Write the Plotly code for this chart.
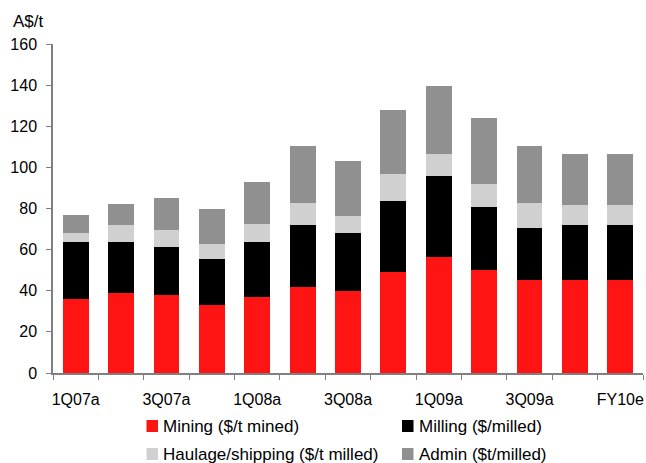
import plotly.graph_objects as go

# Quarterly unit costs (A$/t), stacked by cost component
quarters = ["1Q07a", "2Q07a", "3Q07a", "4Q07a", "1Q08a", "2Q08a", "3Q08a",
            "4Q08a", "1Q09a", "2Q09a", "3Q09a", "4Q09a", "FY10e"]
tick_labels = ["1Q07a", "", "3Q07a", "", "1Q08a", "", "3Q08a",
               "", "1Q09a", "", "3Q09a", "", "FY10e"]

mining = [36, 39, 38, 33, 37, 42, 40, 49, 56.5, 50, 45, 45, 45]
milling = [27.5, 24.5, 23.5, 22.5, 26.5, 30, 28, 34.5, 39.5, 30.5, 25.5, 27, 27]
haulage = [4.5, 8.5, 8, 7, 9, 10.5, 8.5, 13.5, 10.5, 11.5, 12, 9.5, 9.5]
admin = [9, 10, 15.5, 17.5, 20.5, 28, 26.5, 31, 33, 32, 28, 25, 25]

series_names = ["Mining ($/t mined)", "Milling ($/milled)",
                "Haulage/shipping ($/t milled)", "Admin ($t/milled)"]
series_values = [mining, milling, haulage, admin]
series_colors = ["#FF1414", "#000000", "#D0D0D0", "#909090"]

FONT = "Liberation Sans, Arial, sans-serif"
AXIS_GREY = "#808080"

W, H = 646, 463
M_L, M_R, M_T, M_B = 53, 3, 44, 90

fig = go.Figure()
for name, vals, col in zip(series_names, series_values, series_colors):
    fig.add_trace(go.Bar(x=quarters, y=vals, name=name,
                         marker=dict(color=col, line=dict(width=0)),
                         showlegend=False))

fig.update_layout(
    width=W, height=H,
    margin=dict(l=M_L, r=M_R, t=M_T, b=M_B),
    barmode="stack", bargap=0.43,
    plot_bgcolor="white", paper_bgcolor="white",
    font=dict(family=FONT, size=16, color="black"),
)
fig.update_xaxes(
    type="category", tickmode="array", tickvals=quarters, ticktext=tick_labels,
    tickson="boundaries", ticks="outside", ticklen=5, tickcolor=AXIS_GREY,
    showline=True, linecolor=AXIS_GREY, linewidth=1.5, showgrid=False,
    ticklabelstandoff=11, tickangle=0,
)
fig.update_yaxes(
    range=[0, 160], dtick=20, ticks="outside", ticklen=5, tickcolor=AXIS_GREY,
    showline=True, linecolor=AXIS_GREY, linewidth=1.5, showgrid=False,
    zeroline=False, ticklabelstandoff=6,
)

plot_w = W - M_L - M_R
plot_h = H - M_T - M_B


def px_x(px):
    return (px - M_L) / plot_w


def px_y(py):
    return (H - M_B - py) / plot_h


# Unit label above the value axis
fig.add_annotation(text="A$/t", xref="paper", yref="paper",
                   x=px_x(11), y=px_y(21), xanchor="left", yanchor="middle",
                   showarrow=False, font=dict(size=17))

# Two-column legend below the chart
legend_slots = [(146.5, 426), (402, 426), (146.5, 454), (402, 454)]
for (sx, sy), name, col in zip(legend_slots, series_names, series_colors):
    fig.add_shape(type="rect", xref="paper", yref="paper",
                  x0=px_x(sx), x1=px_x(sx + 11.5), y0=px_y(sy - 6), y1=px_y(sy + 6),
                  fillcolor=col, line=dict(width=0))
    fig.add_annotation(text=name, xref="paper", yref="paper",
                       x=px_x(sx + 14.5), y=px_y(sy), xanchor="left", yanchor="middle",
                       showarrow=False, font=dict(size=17))

fig.write_html("out.html")
